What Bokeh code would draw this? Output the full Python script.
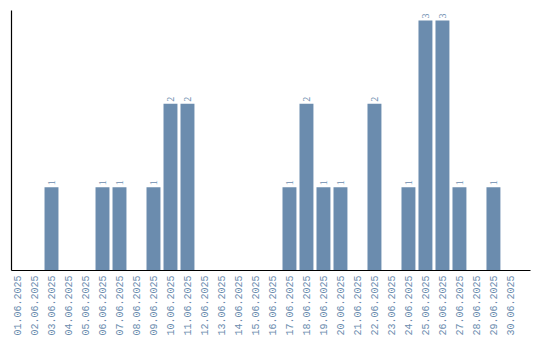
import math
from bokeh.plotting import figure
from bokeh.models import ColumnDataSource, FixedTicker, LabelSet
from bokeh.embed import file_html
from bokeh.resources import INLINE

dates = ["%02d.06.2025" % d for d in range(1, 31)]
counts = [0, 0, 1, 0, 0, 1, 1, 0, 1, 2, 2, 0, 0, 0, 0, 0, 1, 2, 1, 1, 0, 2, 0, 1, 3, 3, 1, 0, 1, 0]

xs = list(range(1, len(dates) + 1))
src = ColumnDataSource(dict(x=xs, top=counts, txt=[str(c) for c in counts]))
lab_src = ColumnDataSource(dict(x=[x for x, c in zip(xs, counts) if c > 0],
                                y=[c for c in counts if c > 0],
                                txt=[str(c) for c in counts if c > 0]))

BAR = "#6b8cae"
FONT = "Liberation Mono"
p = figure(width=540, height=340, output_backend="svg", toolbar_location=None,
           x_range=(0.647, 31.18), y_range=(0, 3.12),
           min_border_left=11, min_border_right=10, min_border_top=10, min_border_bottom=70)
p.outline_line_color = None
p.grid.grid_line_color = None
p.background_fill_color = "white"

p.vbar(x="x", top="top", width=0.82, bottom=0, source=src, color=BAR, line_color=None)

labels = LabelSet(x="x", y="y", text="txt", source=lab_src, angle=math.pi / 2,
                  text_align="left", text_baseline="middle", y_offset=2,
                  text_font=FONT, text_font_size="10px", text_color=BAR)
p.add_layout(labels)

xa = p.xaxis[0]
xa.ticker = FixedTicker(ticks=xs)
xa.major_label_overrides = {x: d for x, d in zip(xs, dates)}
xa.major_label_orientation = math.pi / 2
xa.major_label_text_font = FONT
xa.major_label_text_font_size = "10px"
xa.major_label_text_color = BAR
xa.major_tick_out = 0
xa.major_tick_in = 0
xa.minor_tick_out = 0
xa.minor_tick_in = 0
xa.major_label_standoff = 5
xa.axis_line_color = "black"
xa.axis_line_width = 1.2

ya = p.yaxis[0]
ya.ticker = FixedTicker(ticks=[])
ya.major_tick_out = 0
ya.minor_tick_out = 0
ya.major_label_text_font_size = "0px"
ya.axis_line_color = "black"
ya.axis_line_width = 1.2

open("out.html", "w").write(file_html(p, INLINE))
